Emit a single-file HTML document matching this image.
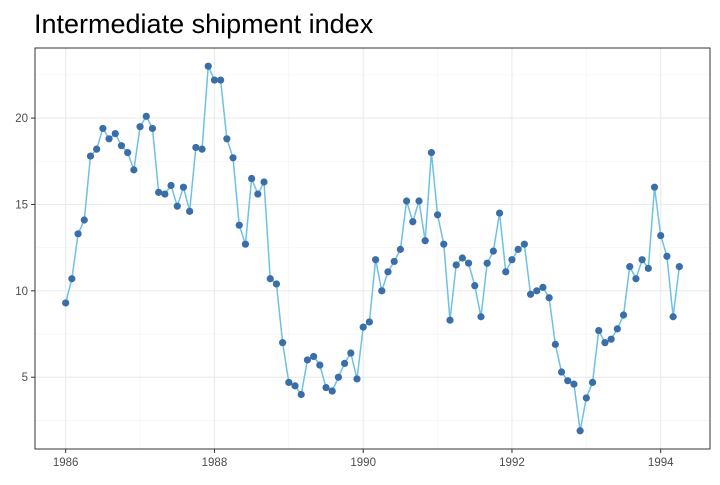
<!DOCTYPE html>
<html><head><meta charset="utf-8"><style>
body{margin:0;background:#fff;font-family:"Liberation Sans",Arial,sans-serif}
</style></head><body>
<svg id="c" width="720" height="480" xmlns="http://www.w3.org/2000/svg">
<text x="34" y="33" font-size="27" fill="#000">Intermediate shipment index</text>
</svg>
<script>
const startYear = 1986;
const values = [9.3,10.7,13.3,14.1,17.8,18.2,19.4,18.8,19.1,18.4,18.0,17.0,19.5,20.1,19.4,15.7,15.6,16.1,14.9,16.0,14.6,18.3,18.2,23.0,22.2,22.2,18.8,17.7,13.8,12.7,16.5,15.6,16.3,10.7,10.4,
7.0,4.7,4.5,4.0,6.0,6.2,5.7,4.4,4.2,5.0,5.8,6.4,4.9,7.9,8.2,11.8,10.0,11.1,11.7,12.4,15.2,14.0,15.2,12.9,18.0,14.4,12.7,8.3,11.5,11.9,11.6,10.3,8.5,11.6,12.3,14.5,
11.1,11.8,12.4,12.7,9.8,10.0,10.2,9.6,6.9,5.3,4.8,4.6,1.9,3.8,4.7,7.7,7.0,7.2,7.8,8.6,11.4,10.7,11.8,11.3,16.0,13.2,12.0,8.5,11.4];
const xTicks = [1986,1988,1990,1992,1994];
const yTicks = [5,10,15,20];
const svg = document.getElementById('c');
const NS = 'http://www.w3.org/2000/svg';
const L=35,R=710,T=48,B=449;
const times = values.map((v,i)=>startYear+i/12);
const tmin=Math.min(...times),tmax=Math.max(...times);
const vmin=Math.min(...values),vmax=Math.max(...values);
const tx0=tmin-0.05*(tmax-tmin),tx1=tmax+0.05*(tmax-tmin);
const vy0=vmin-0.05*(vmax-vmin),vy1=vmax+0.05*(vmax-vmin);
const X=t=>L+(t-tx0)/(tx1-tx0)*(R-L);
const Y=v=>B-(v-vy0)/(vy1-vy0)*(B-T);
function mk(tag,attrs,parent){const e=document.createElementNS(NS,tag);for(const k in attrs)e.setAttribute(k,attrs[k]);(parent||svg).appendChild(e);return e;}
const grid=mk('g',{});


// minor
for(let i=0;i<xTicks.length+1;i++){const t=xTicks[0]-1+2*i;if(t>tx0&&t<tx1)mk('line',{x1:X(t),x2:X(t),y1:T,y2:B,stroke:'#f2f2f2','stroke-width':0.6},grid);}
for(let i=0;i<=yTicks.length;i++){const v=yTicks[0]-2.5+5*i;if(v>vy0&&v<vy1)mk('line',{x1:L,x2:R,y1:Y(v),y2:Y(v),stroke:'#f2f2f2','stroke-width':0.6},grid);}
xTicks.forEach(t=>{mk('line',{x1:X(t),x2:X(t),y1:T,y2:B,stroke:'#ebebeb','stroke-width':1.2},grid);
 mk('line',{x1:X(t),x2:X(t),y1:B,y2:B+4,stroke:'#333','stroke-width':1});
 const lb=mk('text',{x:X(t),y:B+17,'font-size':11.5,fill:'#4d4d4d','text-anchor':'middle'});lb.textContent=t;
 
 });
yTicks.forEach(v=>{mk('line',{x1:L,x2:R,y1:Y(v),y2:Y(v),stroke:'#ebebeb','stroke-width':1.2},grid);
 mk('line',{x1:L-4,x2:L,y1:Y(v),y2:Y(v),stroke:'#333','stroke-width':1});
 const lb=mk('text',{x:L-7,y:Y(v)+4,'font-size':11.5,fill:'#4d4d4d','text-anchor':'end'});lb.textContent=v;
 
 });
const line=mk('polyline',{points:values.map((v,i)=>X(times[i])+','+Y(v)).join(' '),fill:'none',stroke:'#6ec1e6','stroke-width':1.5});


values.forEach((v,i)=>{const c=mk('circle',{cx:X(times[i]),cy:Y(v),r:3.6,fill:'#3a6ea8'});
 
 });
const fr=mk('rect',{x:L,y:T,width:R-L,height:B-T,fill:'none',stroke:'#333','stroke-width':1});


</script>
</body></html>
